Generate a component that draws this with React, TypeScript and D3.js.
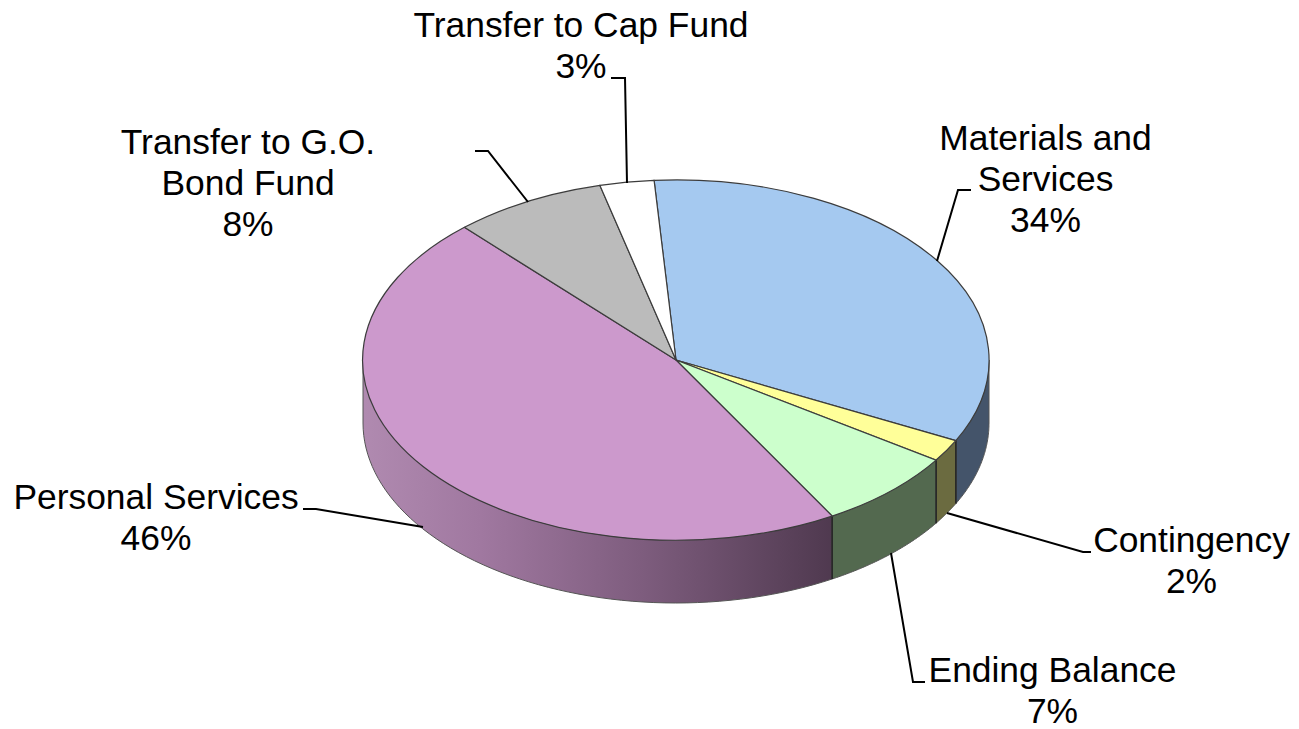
import React from "react";
import * as d3 from "d3";

const categories = ["Materials and Services", "Contingency", "Ending Balance", "Personal Services", "Transfer to G.O. Bond Fund", "Transfer to Cap Fund"];
const values = [33.5, 2.0, 7.3, 46.49, 7.92, 2.79];
const percentLabels = ["34%", "2%", "7%", "46%", "8%", "3%"];
const topColors = ["#a5c9f0", "#ffff99", "#ccffcc", "#cc99cc", "#bbbbbb", "#ffffff"];
const sideColors = ["#44546a", "#6b6b40", "#53694f", "", "", ""];

const W = 1299, H = 729;
const cx = 676, cy = 360, rx = 313, ry = 180, depth = 63;
const startDeg = -4;

const labelLayout = [
  { lines: ["Materials and", "Services", "34%"], x: 1045.5, y: 150, leader: [[971, 190], [958, 190], [937, 261]] },
  { lines: ["Contingency", "2%"], x: 1191.5, y: 552, leader: [[947, 513], [1083, 552], [1091, 552]] },
  { lines: ["Ending Balance", "7%"], x: 1052.5, y: 682, leader: [[891, 553], [913, 682], [925, 682]] },
  { lines: ["Personal Services", "46%"], x: 156, y: 509, leader: [[303, 509], [316, 509], [423, 527]] },
  { lines: ["Transfer to G.O.", "Bond Fund", "8%"], x: 248, y: 154, leader: [[475, 151], [488, 151], [528, 202]] },
  { lines: ["Transfer to Cap Fund", "3%"], x: 581, y: 37, leader: [[611, 78], [625, 78], [627, 183]] },
];

const pie = d3.pie<number>().sort(null).startAngle((startDeg * Math.PI) / 180).endAngle(((startDeg + 360) * Math.PI) / 180);
const arcs = pie(values);
const unitArc = d3.arc<d3.PieArcDatum<number>>().innerRadius(0).outerRadius(1);

const px = (a: number) => cx + rx * Math.sin(a);
const py = (a: number) => cy - ry * Math.cos(a);

function sidePath(a0: number, a1: number) {
  // visible wall: angle between 90deg and 270deg
  const lo = Math.max(a0, Math.PI / 2), hi = Math.min(a1, (3 * Math.PI) / 2);
  if (hi <= lo) return null;
  const samples = d3.range(0, 61).map((i) => lo + ((hi - lo) * i) / 60);
  const top = samples.map((a) => [px(a), py(a)] as [number, number]);
  const bottom = samples.slice().reverse().map((a) => [px(a), py(a) + depth] as [number, number]);
  return d3.line()([...top, ...bottom]) + "Z";
}

export default function App() {
  return (
    <svg width={W} height={H} style={{ position: "absolute", left: 0, top: 0, background: "#fff" }} fontFamily="'Liberation Sans', Arial, sans-serif">
      <defs>
        <linearGradient id="personalSide" gradientUnits="userSpaceOnUse" x1={363} x2={833} y1={0} y2={0}>
          <stop offset="0" stopColor="#b08ab0" />
          <stop offset="0.25" stopColor="#a078a0" />
          <stop offset="0.6" stopColor="#7d5c7d" />
          <stop offset="1" stopColor="#4f394f" />
        </linearGradient>
      </defs>
      {arcs.map((d, i) => {
        const p = sidePath(d.startAngle, d.endAngle);
        if (!p) return null;
        const fill = sideColors[i] || "url(#personalSide)";
        return <path key={i} d={p} fill={fill} stroke="#555" strokeWidth={1} strokeLinejoin="round" />;
      })}
      {arcs.map((d, i) => {
        const a = d.startAngle;
        return a > Math.PI / 2 && a < (3 * Math.PI) / 2 ? (
          <line key={i} x1={px(a)} y1={py(a)} x2={px(a)} y2={py(a) + depth} stroke="#222" strokeWidth={1.5} />
        ) : null;
      })}
      {arcs.map((d, i) => (
        <path
          key={i}
          d={unitArc(d) as string}
          transform={`translate(${cx},${cy}) scale(${rx},${ry})`}
          fill={topColors[i]}
          stroke="#3c3c3c"
          strokeWidth={1.2}
          vectorEffect="non-scaling-stroke"
        />
      ))}
      {labelLayout.map((l, i) => (
        <g key={categories[i]}>
          <path d={d3.line()(l.leader as [number, number][]) as string} fill="none" stroke="#000" strokeWidth={2} />
          <text x={l.x} textAnchor="middle" fontSize={35.4} fill="#000">
            {l.lines.map((t, j) => (
              <tspan key={j} x={l.x} y={l.y + j * 41}>{t === percentLabels[i] ? percentLabels[i] : t}</tspan>
            ))}
          </text>
        </g>
      ))}
    </svg>
  );
}
